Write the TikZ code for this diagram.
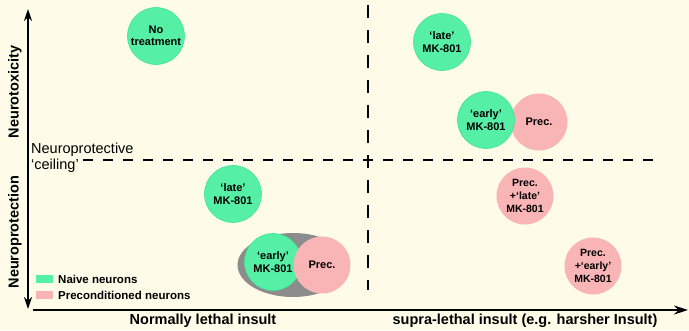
\documentclass[tikz,border=0pt]{standalone}
\usepackage{fontspec}
\setmainfont{Liberation Sans}
\usetikzlibrary{arrows.meta,shapes.geometric}
\definecolor{bg}{HTML}{FEFCE8}
\definecolor{naive}{HTML}{55EFA5}
\definecolor{naiveedge}{HTML}{40E597}
\definecolor{prec}{HTML}{F9B4B6}
\definecolor{ringgray}{HTML}{8C8C8C}
\begin{document}
\begin{tikzpicture}[x=1pt,y=-1pt,
  cell/.style={circle, minimum size=57pt, inner sep=0pt, align=center,
    font=\fontsize{11}{12.5}\selectfont\bfseries},
  naivecell/.style={cell, fill=naive, draw=naiveedge, line width=0.6pt},
  preccell/.style={cell, fill=prec},
  smallcell/.style={font=\fontsize{10.5}{13}\selectfont\bfseries},
  axislabel/.style={inner sep=0pt, font=\fontsize{14.5}{16}\selectfont\bfseries},
  axisline/.style={line width=1.8pt},
  tip/.style={},
  dashh/.style={line width=2.6pt, dash pattern=on 10pt off 10pt},
  dashv/.style={line width=2.6pt, dash pattern=on 13pt off 12pt},
  swatch/.style={inner sep=0pt, minimum width=17pt, minimum height=8pt},
  legendtext/.style={anchor=west, inner sep=0pt, font=\fontsize{11.5}{13}\selectfont\bfseries}
]
\fill[bg] (0,0) rectangle (689,330);
\useasboundingbox (0,0) rectangle (689,330);

% dashed separators
\coordinate (vtop) at (368,5);
\coordinate (vbot) at (368,290);
\coordinate (hl) at (83,160);
\coordinate (hr) at (655,160);
\draw[dashv] (vtop) -- (vbot);
\draw[dashh] (hl) -- (hr);

% axes
\coordinate (ytop) at (28,9);
\coordinate (ybot) at (28,309);
\coordinate (xl) at (33,310);
\coordinate (xr) at (688,310);
\draw[axisline, {Stealth[length=12pt,width=8pt]}-{Stealth[length=12pt,width=8pt]}] (ybot) -- (ytop);
\draw[axisline, -{Stealth[length=14pt,width=9pt]}] (xl) -- (xr);

% axis labels
\node[axislabel, rotate=90] (tox) at (15,92) {Neurotoxicity};
\node[axislabel, rotate=90] (prot) at (15,232) {Neuroprotection};
\node[axislabel] (xa) at (203,321) {Normally lethal insult};
\node[axislabel] (xb) at (525,321) {supra-lethal insult (e.g. harsher Insult)};
\node[anchor=west, inner sep=0pt, align=left, font=\fontsize{14.5}{16}\selectfont] (ceil) at (31,158) {Neuroprotective\\‘ceiling’};

% circles
\node[naivecell] (none) at (156,36) {No\\treatment};
\node[naivecell] (lateA) at (442,42) {‘late’\\MK-801};
\node[preccell] (precA) at (539,122) {Prec.};
\node[naivecell] (earlyA) at (486,120) {‘early’\\MK-801};
\node[naivecell] (lateB) at (233,194) {‘late’\\MK-801};
\node[ellipse, fill=ringgray, inner sep=0pt, minimum width=111pt, minimum height=64pt] (ring) at (293,265) {};
\node[naivecell] (earlyB) at (273,262) {‘early’\\MK-801};
\node[preccell] (precB) at (322,265) {Prec.};
\node[preccell, smallcell] (precLate) at (525,196) {Prec.\\+‘late’\\MK-801};
\node[preccell, smallcell] (precEarly) at (593,266) {Prec.\\+‘early’\\MK-801};

% legend
\node[swatch, fill=naive] (swN) at (44.5,279) {};
\node[legendtext] (lgN) at (58,279) {Naive neurons};
\node[swatch, fill=prec] (swP) at (44.5,295) {};
\node[legendtext] (lgP) at (58,295) {Preconditioned neurons};
\end{tikzpicture}
\end{document}
